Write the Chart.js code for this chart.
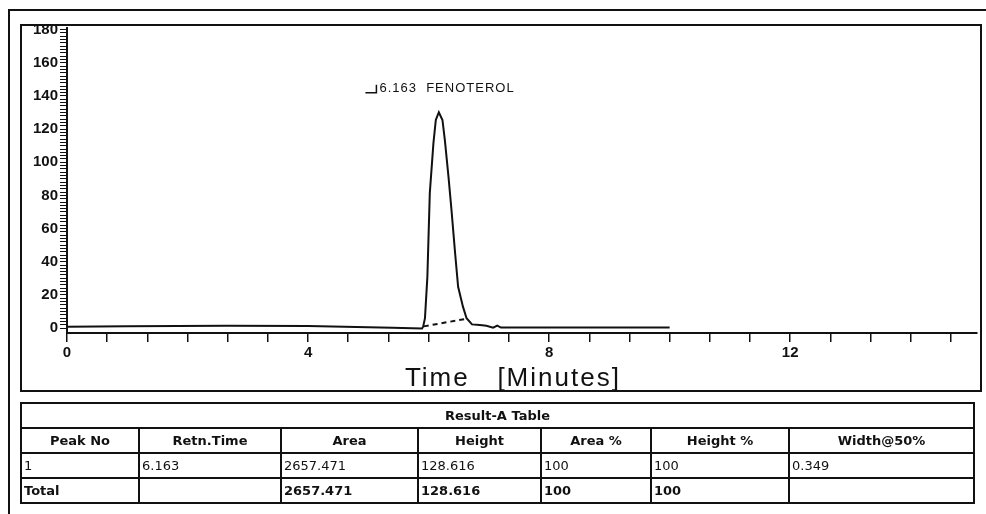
<!DOCTYPE html>
<html>
<head>
<meta charset="utf-8">
<script src="https://cdn.jsdelivr.net/npm/chart.js@4.4.1/dist/chart.umd.min.js"></script>
<style>
  html, body { margin: 0; padding: 0; background: #fff; width: 986px; height: 514px; overflow: hidden; }
  #page { position: relative; width: 986px; height: 514px; }
  #wrap { position: absolute; left: 0; top: 0; width: 986px; height: 400px; }
  #mask { position: absolute; left: 22px; top: 12px; width: 958px; height: 13px; background: #fff; }
  #frame { position: absolute; left: 20px; top: 24px; width: 962px; height: 368px; border: 2px solid #111; box-sizing: border-box; }
  #outer { position: absolute; left: 8px; top: 9px; width: 1000px; height: 600px; border: 2px solid #111; box-sizing: border-box; }
  #result { position: absolute; left: 20px; top: 402px; width: 953px; border-collapse: collapse; table-layout: fixed;
            font-family: 'DejaVu Sans', Verdana, sans-serif; font-size: 13px; color: #111; }
  #result td, #result th { border: 2px solid #111; padding: 0 2px; height: 23px; line-height: 23px; white-space: nowrap; overflow: hidden; }
  #result th { font-weight: bold; text-align: center; }
  #result td { text-align: left; }
  #result tr.total td { font-weight: bold; }
</style>
</head>
<body>
<div id="page">
  <div id="wrap"><canvas id="chrom"></canvas></div>
  <div id="mask"></div>
  <div id="frame"></div>
  <div id="outer"></div>
  <table id="result"></table>
</div>
<script>
'use strict';

/* ── data ── */
const signalTimes  = [0, 1, 2.65, 4, 5.4, 5.89, 5.91, 5.94, 5.98, 6.02, 6.08, 6.12, 6.17, 6.23, 6.27, 6.33,
                      6.38, 6.44, 6.49, 6.57, 6.63, 6.72, 6.85, 6.96, 7.07, 7.14, 7.2, 7.5, 8.5, 10.0];
const signalValues = [0.8, 1.0, 1.4, 1.2, 0.2, -0.3, 0.8, 6.0, 31, 81.4, 111.4, 125.5, 130.2, 125.5, 113.4, 91.3,
                      71.2, 45.2, 24.9, 12.9, 5.9, 2.2, 1.8, 1.4, 0.2, 1.4, 0.3, 0.3, 0.3, 0.3];
const baselineTimes  = [5.92, 6.63];
const baselineValues = [1.0, 5.6];

const yLabelValues = [0, 20, 40, 60, 80, 100, 120, 140, 160, 180];
const xLabelValues = [0, 4, 8, 12];

const peakTime = 6.163;
const peakName = 'FENOTEROL';

const tableTitle   = 'Result-A Table';
const tableHeaders = ['Peak No', 'Retn.Time', 'Area', 'Height', 'Area %', 'Height %', 'Width@50%'];
const peakRow      = ['1', '6.163', '2657.471', '128.616', '100', '100', '0.349'];
const totalRow     = ['Total', '', '2657.471', '128.616', '100', '100', ''];
const columnWidths = [118, 142, 137, 123, 110, 138, 185];

/* ── result table ── */
function buildTable() {
  const table = document.getElementById('result');
  const cols = columnWidths.map(w => `<col style="width:${w}px">`).join('');
  const head = tableHeaders.map(h => `<th>${h}</th>`).join('');
  const row = peakRow.map(v => `<td>${v}</td>`).join('');
  const total = totalRow.map(v => `<td>${v}</td>`).join('');
  table.innerHTML =
    `<colgroup>${cols}</colgroup>` +
    `<tr><th colspan="${tableHeaders.length}">${tableTitle}</th></tr>` +
    `<tr>${head}</tr><tr>${row}</tr><tr class="total">${total}</tr>`;
}

/* ── peak label + axis title ── */
const annotatePlugin = {
  id: 'annotate',
  afterDraw(chart) {
    const { ctx, scales: { x, y }, chartArea } = chart;
    const px = x.getPixelForValue(peakTime);
    const py = y.getPixelForValue(142);
    ctx.save();
    ctx.strokeStyle = '#111';
    ctx.lineWidth = 1.5;
    ctx.beginPath();
    ctx.moveTo(px - 73, py);
    ctx.lineTo(px - 62, py);
    ctx.lineTo(px - 62, py - 8);
    ctx.stroke();
    ctx.fillStyle = '#111';
    ctx.font = "13px 'Liberation Sans', Arial, sans-serif";
    ctx.letterSpacing = '1px';
    ctx.textBaseline = 'alphabetic';
    ctx.fillText(peakTime.toFixed(3) + '  ' + peakName, px - 59, py - 1);

    ctx.font = "26px 'Liberation Sans', Arial, sans-serif";
    ctx.letterSpacing = '2px';
    ctx.textAlign = 'center';
    const cx = chartArea.left + (chartArea.right - chartArea.left) * 0.49;
    ctx.fillText('Time   [Minutes]', cx, 386);
    ctx.restore();
  },
};

function initChart() {
  buildTable();

  const points = signalTimes.map((t, i) => ({ x: t, y: signalValues[i] }));
  const base = baselineTimes.map((t, i) => ({ x: t, y: baselineValues[i] }));
  const tickFont = { family: "'Liberation Sans', Arial, sans-serif", size: 15, weight: 'bold' };

  new Chart(document.getElementById('chrom').getContext('2d'), {
    type: 'scatter',
    data: {
      datasets: [
        { data: points, showLine: true, borderColor: '#111', borderWidth: 2, pointRadius: 0, tension: 0 },
        { data: base, showLine: true, borderColor: '#111', borderWidth: 2, borderDash: [5, 4], pointRadius: 0 },
      ],
    },
    options: {
      responsive: true,
      maintainAspectRatio: false,
      animation: false,
      layout: { padding: { top: 28, right: 9, left: 0, bottom: 0 } },
      plugins: { legend: { display: false }, tooltip: { enabled: false } },
      scales: {
        x: {
          type: 'linear',
          min: 0,
          max: 15.1,
          afterFit(scale) { scale.height = 67; },
          afterBuildTicks(scale) {
            const ticks = [];
            for (let k = 0; k * 2 / 3 <= 15.1; k++) ticks.push({ value: k * 2 / 3 });
            scale.ticks = ticks;
          },
          border: { display: true, color: '#111', width: 2 },
          grid: { drawOnChartArea: false, drawTicks: true, tickLength: 9, color: '#111', lineWidth: 1.5 },
          ticks: {
            autoSkip: false,
            maxRotation: 0,
            padding: 2,
            color: '#111',
            font: tickFont,
            callback(value) {
              const hit = xLabelValues.find(v => Math.abs(v - value) < 1e-6);
              return hit === undefined ? '' : String(hit);
            },
          },
        },
        y: {
          min: -3,
          max: 181,
          afterFit(scale) { scale.width = 67; },
          afterBuildTicks(scale) {
            const ticks = [];
            for (let v = 0; v <= 180; v += 2) ticks.push({ value: v });
            scale.ticks = ticks;
          },
          border: { display: true, color: '#111', width: 2 },
          grid: { drawOnChartArea: false, drawTicks: true, tickLength: 7, color: '#111', lineWidth: 1 },
          ticks: {
            autoSkip: false,
            padding: 2,
            color: '#111',
            font: tickFont,
            callback(value) { return yLabelValues.includes(value) ? String(value) : ''; },
          },
        },
      },
    },
    plugins: [annotatePlugin],
  });
}

initChart();
</script>
</body>
</html>
